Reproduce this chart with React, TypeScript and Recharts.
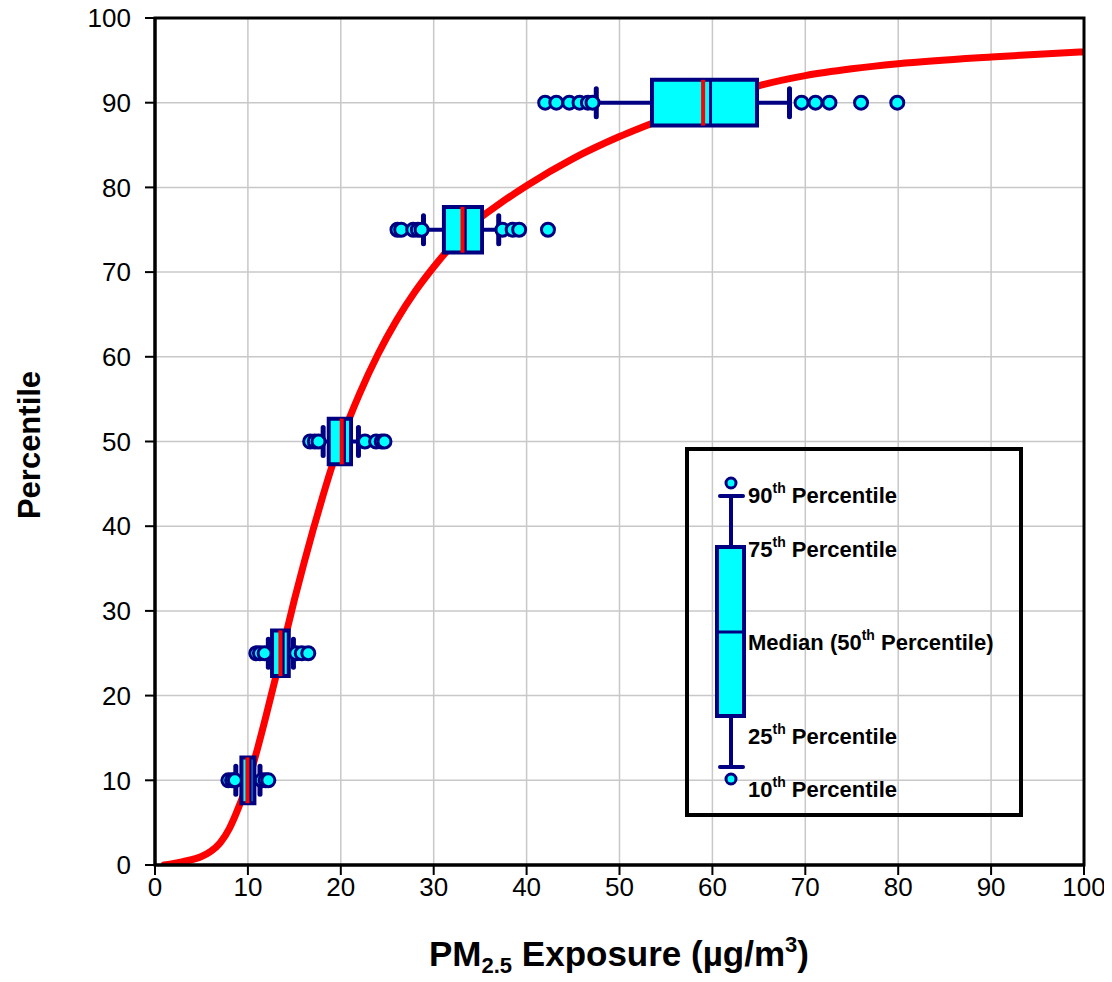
import React from 'react';
import {ComposedChart, Line, Scatter, XAxis, YAxis, CartesianGrid, ReferenceArea, ReferenceLine} from 'recharts';

// cumulative curve (exposure vs percentile)
const curveX = [1, 3, 5, 6, 7, 8, 9, 10, 11, 12, 13, 14, 15, 16, 17, 18, 19, 20, 22, 24, 26, 28, 30, 32, 34, 37, 40, 45, 50, 55, 60, 65, 70, 75, 80, 90, 100];
const curveY = [0, 0.4, 1.0, 1.6, 2.6, 4.3, 6.8, 9.8, 13.6, 17.8, 22.2, 26.8, 31.3, 35.5, 39.5, 43.3, 46.9, 50.1, 55.6, 60.3, 64.3, 67.7, 70.6, 73.2, 75.5, 78.0, 80.2, 83.4, 86.0, 88.2, 90.2, 92.0, 93.2, 94.0, 94.6, 95.4, 96.0];

// box plots, one per percentile level
const levels = [10, 25, 50, 75, 90];
const q1 = [9.3, 12.6, 18.7, 31.1, 53.5];
const q3 = [10.7, 14.4, 21.1, 35.2, 64.8];
const medians = [9.95, 13.5, 20.1, 33.1, 59.0];
const means = [10.25, 13.8, 20.4, 33.4, 59.8];
const whiskerLow = [8.7, 12.2, 18.1, 28.9, 47.5];
const whiskerHigh = [11.3, 14.9, 21.9, 37.0, 68.3];
const outliers = [
  [7.9, 8.3, 8.6, 11.5, 11.9, 12.2],
  [10.9, 11.3, 11.8, 15.2, 15.8, 16.5],
  [16.7, 17.2, 17.6, 22.6, 23.8, 24.4, 24.7],
  [26.1, 26.5, 27.8, 28.3, 28.7, 37.4, 38.5, 39.2, 42.3],
  [42.0, 43.2, 44.6, 45.7, 46.6, 47.1, 69.6, 71.1, 72.6, 76.0, 79.9],
];

const xTicks = [0, 10, 20, 30, 40, 50, 60, 70, 80, 90, 100];
const yTicks = [0, 10, 20, 30, 40, 50, 60, 70, 80, 90, 100];

const NAVY = '#000080';
const CYAN = '#00FFFF';
const RED = '#FF0000';
const FONT = "Arial, 'Liberation Sans', sans-serif";
const BOX_HALF = 2.7;
const CAP_HALF = 1.65;
const W = 1112;
const H = 982;

const curveData = curveX.map((x, i) => ({x, y: curveY[i]}));
const outlierData = outliers.flatMap((row, i) => row.map(x => ({x, y: levels[i]})));

const Dot = (props: any) => (
  <circle cx={props.cx} cy={props.cy} r={6.5} fill={CYAN} stroke={NAVY} strokeWidth={3} />
);

const seg = (x1: number, y1: number, x2: number, y2: number) => [{x: x1, y: y1}, {x: x2, y: y2}];

const LegendLabel = ({y, pre, rest}: {y: number; pre: string; rest: string}) => (
  <text x={748} y={y} fontFamily={FONT} fontWeight="bold" fontSize={22} fill="#000">
    {pre}
    <tspan fontSize={14} dy={-10}>th</tspan>
    <tspan dy={10}>{rest}</tspan>
  </text>
);

const Overlay = () => (
  <svg width={W} height={H} style={{position: 'absolute', left: 0, top: 0, pointerEvents: 'none'}}>
    {/* axis titles */}
    <text transform="translate(40,445) rotate(-90)" textAnchor="middle" fontFamily={FONT} fontWeight="bold" fontSize={31}>
      Percentile
    </text>
    <text x={619} y={966} textAnchor="middle" fontFamily={FONT} fontWeight="bold" fontSize={35}>
      PM<tspan fontSize={22} dy={7}>2.5</tspan>
      <tspan dy={-7}> Exposure (µg/m</tspan>
      <tspan fontSize={22} dy={-14}>3</tspan>
      <tspan dy={14}>)</tspan>
    </text>

    {/* legend */}
    <rect x={687} y={449} width={334} height={366} fill="none" stroke="#000" strokeWidth={4} />
    <line x1={731} y1={496} x2={731} y2={767} stroke={NAVY} strokeWidth={4} />
    <line x1={720} y1={496} x2={743} y2={496} stroke={NAVY} strokeWidth={4} strokeLinecap="round" />
    <line x1={720} y1={767} x2={743} y2={767} stroke={NAVY} strokeWidth={4} strokeLinecap="round" />
    <rect x={717} y={547} width={27} height={169} fill={CYAN} stroke={NAVY} strokeWidth={4} />
    <line x1={717} y1={632} x2={744} y2={632} stroke={NAVY} strokeWidth={3} />
    <circle cx={731} cy={483} r={5} fill={CYAN} stroke={NAVY} strokeWidth={3} />
    <circle cx={731} cy={779} r={5} fill={CYAN} stroke={NAVY} strokeWidth={3} />
    <LegendLabel y={503} pre="90" rest=" Percentile" />
    <LegendLabel y={557} pre="75" rest=" Percentile" />
    <text x={748} y={650} fontFamily={FONT} fontWeight="bold" fontSize={22}>
      Median (50<tspan fontSize={14} dy={-10}>th</tspan>
      <tspan dy={10}> Percentile)</tspan>
    </text>
    <LegendLabel y={744} pre="25" rest=" Percentile" />
    <LegendLabel y={797} pre="10" rest=" Percentile" />
  </svg>
);

export default function App() {
  const tickStyle = {fill: '#000', fontSize: 26, fontFamily: FONT};
  return (
    <div style={{position: 'relative', width: W, height: H, margin: -8, background: '#fff'}}>
      {/* bottom layer: grid, axes, curve */}
      <div style={{position: 'absolute', left: 0, top: 0}}>
        <ComposedChart width={W} height={H} data={curveData} margin={{top: 18, right: 28, left: 0, bottom: 0}}>
          <CartesianGrid stroke="#c8c8c8" strokeWidth={1.5} />
          <XAxis
            type="number"
            dataKey="x"
            domain={[0, 100]}
            ticks={xTicks}
            height={117}
            tick={tickStyle}
            tickSize={10}
            tickMargin={3}
            tickLine={{stroke: '#000', strokeWidth: 2}}
            axisLine={{stroke: '#000', strokeWidth: 3}}
            allowDataOverflow
          />
          <YAxis
            type="number"
            dataKey="y"
            domain={[0, 100]}
            ticks={yTicks}
            width={155}
            tick={tickStyle}
            tickSize={10}
            tickMargin={14}
            tickLine={{stroke: '#000', strokeWidth: 2}}
            axisLine={{stroke: '#000', strokeWidth: 3}}
            allowDataOverflow
          />
          <Line
            dataKey="y"
            type="monotone"
            stroke={RED}
            strokeWidth={7}
            strokeLinecap="round"
            dot={false}
            activeDot={false}
            isAnimationActive={false}
          />
        </ComposedChart>
      </div>
      {/* top layer: box plots and outliers, same plot area */}
      <div style={{position: 'absolute', left: 0, top: 0}}>
        <ComposedChart width={W} height={H} margin={{top: 18, right: 28, left: 155, bottom: 117}}>
          <XAxis type="number" dataKey="x" domain={[0, 100]} hide allowDataOverflow />
          <YAxis type="number" dataKey="y" domain={[0, 100]} hide allowDataOverflow />
          {levels.map((p, i) => (
            <React.Fragment key={p}>
              <ReferenceLine segment={seg(whiskerLow[i], p, q1[i], p)} stroke={NAVY} strokeWidth={4} />
              <ReferenceLine segment={seg(q3[i], p, whiskerHigh[i], p)} stroke={NAVY} strokeWidth={4} />
              <ReferenceArea x1={q1[i]} x2={q3[i]} y1={p - BOX_HALF} y2={p + BOX_HALF} fill={CYAN} fillOpacity={1} stroke={NAVY} strokeWidth={4} />
              <ReferenceLine segment={seg(means[i], p - BOX_HALF, means[i], p + BOX_HALF)} stroke={NAVY} strokeWidth={3} />
              <ReferenceLine segment={seg(medians[i], p - BOX_HALF, medians[i], p + BOX_HALF)} stroke={RED} strokeWidth={4} />
            </React.Fragment>
          ))}
          <Scatter data={outlierData} dataKey="y" shape={<Dot />} isAnimationActive={false} />
          {levels.map((p, i) => (
            <React.Fragment key={'cap' + p}>
              <ReferenceLine segment={seg(whiskerLow[i], p - CAP_HALF, whiskerLow[i], p + CAP_HALF)} stroke={NAVY} strokeWidth={5} strokeLinecap="round" />
              <ReferenceLine segment={seg(whiskerHigh[i], p - CAP_HALF, whiskerHigh[i], p + CAP_HALF)} stroke={NAVY} strokeWidth={5} strokeLinecap="round" />
            </React.Fragment>
          ))}
          <ReferenceArea x1={0} x2={100} y1={0} y2={100} fill="none" stroke="#000" strokeWidth={3} />
        </ComposedChart>
      </div>
      <Overlay />
    </div>
  );
}
